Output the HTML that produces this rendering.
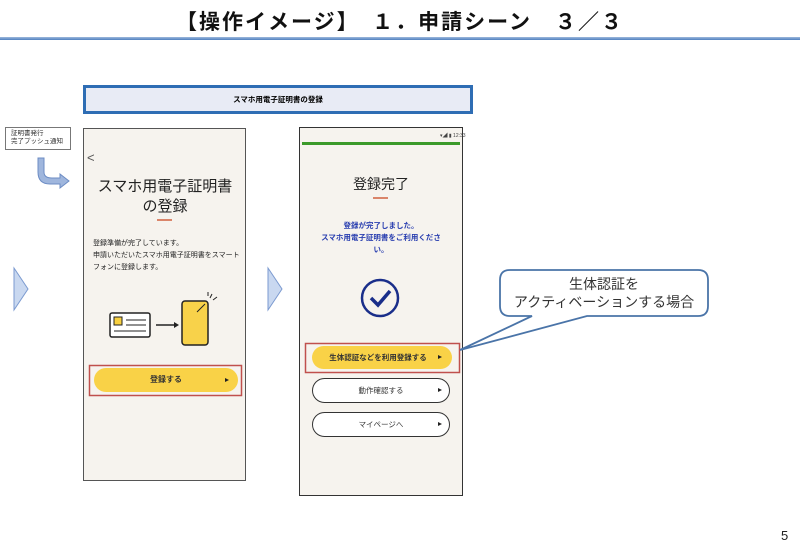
<!DOCTYPE html>
<html><head><meta charset="utf-8"><style>
body{margin:0;width:800px;height:554px;background:#fff;overflow:hidden;position:relative;font-family:"Liberation Sans","Noto Sans CJK JP",sans-serif}
.a{position:absolute}
</style></head><body>
<div class="a" style="left:0;top:6px;width:800px;text-align:center;font-size:21px;font-weight:bold;color:#111;letter-spacing:2px">【操作イメージ】　１．申請シーン　３／３</div>
<div class="a" style="left:0;top:37px;width:800px;height:3px;background:linear-gradient(#9db8dc,#4f7fc0)"></div>

<div class="a" style="left:83px;top:85px;width:384px;height:23px;background:#e8ebf5;border:3px solid #2e6db4;text-align:center;font-size:7.5px;line-height:23px;font-weight:bold">スマホ用電子証明書の登録</div>

<div class="a" style="left:5px;top:127px;width:66px;height:23px;border:1px solid #777;font-size:6.5px;line-height:8px;padding:2px 0 0 5px;box-sizing:border-box;color:#333">証明書発行<br>完了プッシュ通知</div>

<svg class="a" style="left:0;top:0" width="800" height="554">
<path d="M44,158 L44,172 Q44,178 52,178 L60,178 L60,174 L69,181 L60,188 L60,184 L50,184 Q38,184 38,172 L38,158 Z" fill="#9fb6dd" stroke="#6c8cc4" stroke-width="1"/>
<path d="M14,268 L28,289 L14,310 Z" fill="#c9d8f0" stroke="#7b9ad0"/>
<path d="M268,268 L282,289 L268,310 Z" fill="#c9d8f0" stroke="#7b9ad0"/>
<rect x="83.5" y="128.5" width="162" height="352" fill="#f6f3ee" stroke="#555"/>
<text x="87" y="162" font-size="13" fill="#555">&lt;</text>
<line x1="157" y1="220" x2="172" y2="220" stroke="#d0603f" stroke-width="1.5"/>
<rect x="110" y="313" width="40" height="24" rx="2" fill="#fff" stroke="#222" stroke-width="1.5"/>
<rect x="114" y="317" width="8" height="8" fill="#f8d040" stroke="#222"/>
<line x1="126" y1="320" x2="146" y2="320" stroke="#222"/><line x1="126" y1="325" x2="146" y2="325" stroke="#222"/><line x1="114" y1="331" x2="146" y2="331" stroke="#222"/>
<line x1="156" y1="325" x2="174" y2="325" stroke="#222" stroke-width="1.5"/><path d="M174,322 L179,325 L174,328Z" fill="#222"/>
<rect x="182" y="301" width="26" height="44" rx="3" fill="#f8d24a" stroke="#222" stroke-width="1.5"/>
<line x1="197" y1="312" x2="205" y2="304" stroke="#222"/>
<path d="M210,298 l2,-4 M213,300 l4,-3 M208,296 l0,-4" stroke="#222"/>
<rect x="89.5" y="365.5" width="152" height="30" fill="none" stroke="#c0504d" stroke-width="1.5"/>
<rect x="94" y="368" width="144" height="24" rx="12" fill="#f9d247"/>
<path d="M225,378 L229,380 L225,382Z" fill="#222"/>
<rect x="299.5" y="127.5" width="163" height="368" fill="#f6f3ee" stroke="#333"/>
<rect x="302" y="142" width="158" height="3" fill="#3b9a2a"/>
<text x="440" y="137" font-size="5" fill="#444">▾◢ ▮ 12:33</text>
<line x1="373" y1="198" x2="388" y2="198" stroke="#d0603f" stroke-width="1.5"/>
<circle cx="380" cy="298" r="18" fill="none" stroke="#1a2e8a" stroke-width="2.5"/>
<path d="M371,298 L378,305 L390,291" fill="none" stroke="#1a2e8a" stroke-width="3.5"/>
<rect x="305.5" y="343.5" width="154" height="29" fill="none" stroke="#c0504d" stroke-width="1.5"/>
<rect x="312" y="346" width="140" height="23" rx="11.5" fill="#f9d247"/>
<rect x="312.5" y="378.5" width="137" height="24" rx="12" fill="#fff" stroke="#333"/>
<rect x="312.5" y="412.5" width="137" height="24" rx="12" fill="#fff" stroke="#333"/>
<path d="M438,355 L442,357 L438,359Z M438,388 L442,390 L438,392Z M438,422 L442,424 L438,426Z" fill="#222"/>
<path d="M510,270 L698,270 Q708,270 708,280 L708,306 Q708,316 698,316 L587,316 L460,350 L532,316 L510,316 Q500,316 500,306 L500,280 Q500,270 510,270 Z" fill="#fff" stroke="#4a74a8" stroke-width="1.8"/>
</svg>

<div class="a" style="left:84px;top:177px;width:162px;text-align:center;font-size:15px;line-height:20px;color:#222">スマホ用電子証明書<br>の登録</div>
<div class="a" style="left:93px;top:238px;width:150px;font-size:7px;line-height:12px;color:#222">登録準備が完了しています。<br>申請いただいたスマホ用電子証明書をスマートフォンに登録します。</div>
<div class="a" style="left:94px;top:374px;width:144px;text-align:center;font-size:8px;font-weight:bold;color:#333">登録する</div>

<div class="a" style="left:300px;top:174px;width:162px;text-align:center;font-size:14px;color:#222">登録完了</div>
<div class="a" style="left:316px;top:220px;width:130px;text-align:center;font-size:7.5px;line-height:12px;font-weight:bold;color:#2a3fb0">登録が完了しました。<br>スマホ用電子証明書をご利用ください。</div>
<div class="a" style="left:312px;top:352px;width:132px;text-align:center;font-size:7.5px;font-weight:bold;color:#333">生体認証などを利用登録する</div>
<div class="a" style="left:312px;top:385px;width:138px;text-align:center;font-size:7.5px;color:#333">動作確認する</div>
<div class="a" style="left:312px;top:419px;width:138px;text-align:center;font-size:7.5px;color:#333">マイページへ</div>

<div class="a" style="left:500px;top:275px;width:208px;text-align:center;font-size:14px;line-height:18px;color:#333">生体認証を<br>アクティベーションする場合</div>
<div class="a" style="left:781px;top:528px;font-size:13px;color:#222">5</div>
</body></html>
